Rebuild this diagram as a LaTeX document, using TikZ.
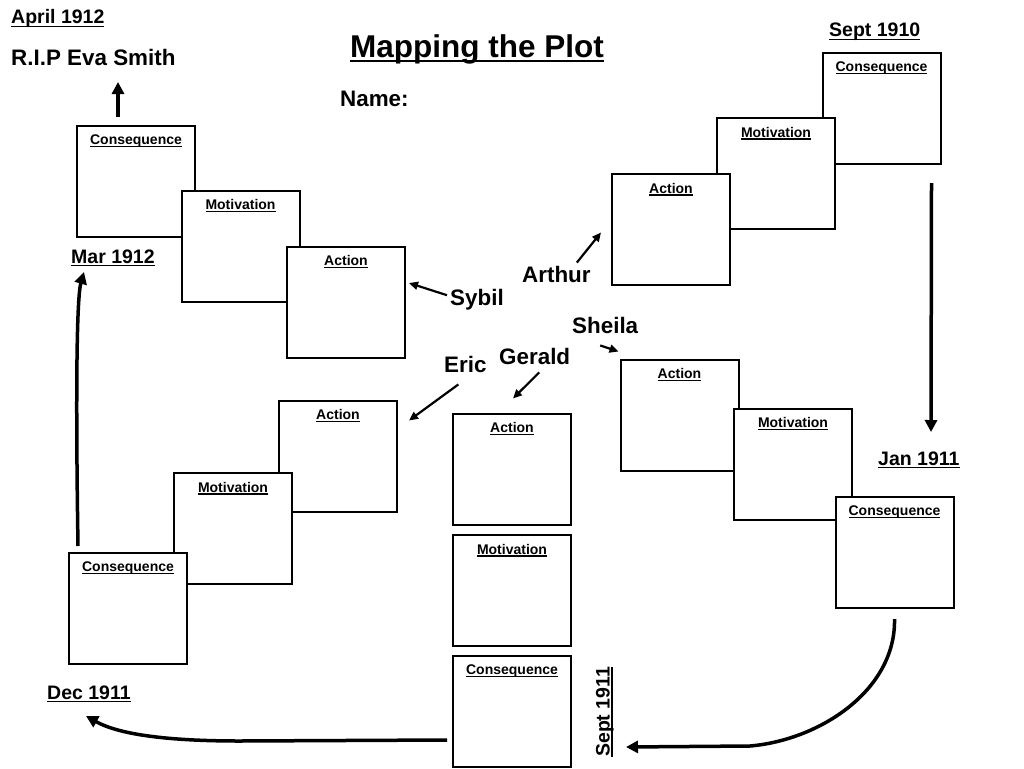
\documentclass[tikz,border=0pt]{standalone}
\usepackage{fontspec}
\setmainfont{Liberation Sans}
\usetikzlibrary{arrows.meta}

\newcommand{\ulin}[1]{\setbox0\hbox{#1}\rlap{\rule[-0.17em]{\wd0}{0.09em}}\box0}

\begin{document}
\begin{tikzpicture}[
  x=1pt, y=-1pt,
  card/.style={rectangle, draw=black, line width=2pt, fill=white,
               minimum width=118pt, minimum height=111pt, inner sep=0pt},
  hdr/.style={anchor=north, inner sep=0pt, yshift=-10pt,
              font=\bfseries\fontsize{14}{16}\selectfont},
  datelbl/.style={anchor=base west, inner sep=0pt,
                  font=\bfseries\fontsize{19.5}{22}\selectfont},
  who/.style={anchor=base west, inner sep=0pt,
              font=\bfseries\fontsize{22.4}{26}\selectfont},
  tl/.style={line width=3.5pt, -{Triangle[length=12pt,width=12pt]}},
  ptr/.style={line width=2.2pt, -{Triangle[length=9pt,width=8pt]}},
]
\useasboundingbox (0,0) rectangle (1024,768);

% Sybil
\node[card, label={[hdr]north:\ulin{Consequence}}] (syC) at (136,181.5) {};
\node[card, label={[hdr]north:\ulin{Motivation}}]  (syM) at (240.5,246) {};
\node[card, label={[hdr]north:\ulin{Action}}]      (syA) at (346,302) {};

% Arthur
\node[card, label={[hdr]north:\ulin{Consequence}}] (arC) at (881.5,108.5) {};
\node[card, label={[hdr]north:\ulin{Motivation}}]  (arM) at (776,173.5) {};
\node[card, label={[hdr]north:\ulin{Action}}]      (arA) at (671,229.5) {};

% Sheila
\node[card, label={[hdr]north:\ulin{Action}}]      (shA) at (679.5,415) {};
\node[card, label={[hdr]north:\ulin{Motivation}}]  (shM) at (793,464) {};
\node[card, label={[hdr]north:\ulin{Consequence}}] (shC) at (894.5,552.5) {};

% Eric
\node[card, label={[hdr]north:\ulin{Action}}]      (erA) at (338,456) {};
\node[card, label={[hdr]north:\ulin{Motivation}}]  (erM) at (233,528.5) {};
\node[card, label={[hdr]north:\ulin{Consequence}}] (erC) at (128,608.5) {};

% Gerald
\node[card, label={[hdr]north:\ulin{Action}}]      (gA) at (512,469) {};
\node[card, label={[hdr]north:\ulin{Motivation}}]  (gM) at (512,590.5) {};
\node[card, label={[hdr]north:\ulin{Consequence}}] (gC) at (512,711.5) {};

% headings and dates
\node[anchor=base west, inner sep=0pt, font=\bfseries\fontsize{31.5}{36}\selectfont]
      (title) at (350,57) {\ulin{Mapping the Plot}};
\node[who] (name) at (340,106) {Name:};
\node[datelbl] (apr12) at (11,24) {\ulin{April 1912}};
\node[who]     (rip)   at (11,65) {R.I.P Eva Smith};
\node[datelbl] (sep10) at (829,37) {\ulin{Sept 1910}};
\node[datelbl] (mar12) at (71,263) {\ulin{Mar 1912}};
\node[datelbl] (jan11) at (878,465) {\ulin{Jan 1911}};
\node[datelbl] (dec11) at (47,699) {\ulin{Dec 1911}};
\node[datelbl, rotate=90] (sep11) at (609.5,757) {\ulin{Sept 1911}};

% characters
\node[who] (arthur) at (522,282) {Arthur};
\node[who] (sybil)  at (450,305) {Sybil};
\node[who] (sheila) at (572,333) {Sheila};
\node[who] (gerald) at (499,364) {Gerald};
\node[who] (eric)   at (444,372) {Eric};

% pointers
\draw[ptr] ([shift={(-14,-3)}]arthur.north east) -- ([shift={(-10,3)}]arA.west);
\draw[ptr] ([shift={(-3,-4)}]sybil.west)         -- ([shift={(3,-19)}]syA.east);
\draw[ptr] ([shift={(-5,12)}]sheila.south)       -- ([shift={(-1,-7)}]shA.north west);
\draw[ptr] ([shift={(4.5,8)}]gerald.south)       -- ([shift={(1,-14)}]gA.north);
\draw[ptr] ([shift={(-7,12)}]eric.south)         -- ([shift={(11,21)}]erA.north east);

% time line
\coordinate (evaTip) at (118,82);
\coordinate (janTip) at (931,432);
\coordinate (s11Tip) at (626,747);
\coordinate (decTip) at (86,716);
\coordinate (marTip) at (84,272);

\draw[tl] ([shift={(-18,-8)}]syC.north) -- (evaTip);
\draw[tl] ([shift={(-10,18)}]arC.south east) -- (janTip);
\draw[tl] ([yshift=-10pt]shC.south) .. controls (896,690) and (820,740) .. (750,746) -- (s11Tip);
\draw[tl] ([shift={(-5,28.5)}]gC.west) -- (240,741) .. controls (170,741) and (120,735) .. (decTip);
\draw[tl] ([shift={(10,-6)}]erC.north west) .. controls (76,420) and (76,300) .. (marTip);

\end{tikzpicture}
\end{document}
